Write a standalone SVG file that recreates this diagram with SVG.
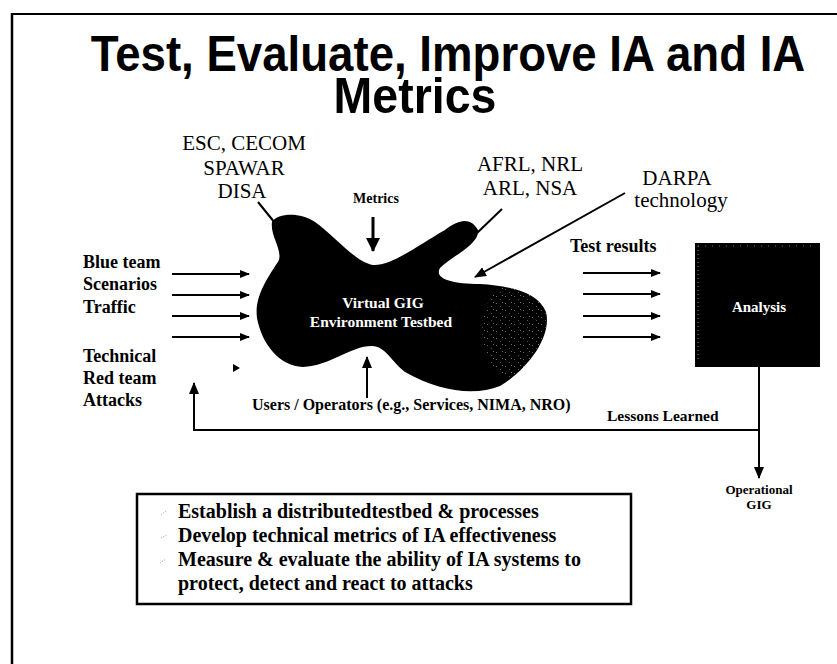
<svg xmlns="http://www.w3.org/2000/svg" width="837" height="664" viewBox="0 0 837 664">
<style>
.serif{font-family:"Liberation Serif","Times New Roman",serif;fill:#000}
.b{font-weight:bold}
.ln{stroke:#000;fill:none}
.wt{fill:#fff}
</style>
<defs>
<marker id="ah" markerUnits="userSpaceOnUse" markerWidth="10" markerHeight="8" refX="9" refY="4" orient="auto"><path d="M0,0 L10,4 L0,8 z" fill="#000"/></marker>
<marker id="ahm" markerUnits="userSpaceOnUse" markerWidth="14" markerHeight="14" refX="13" refY="7" orient="auto"><path d="M0,0 L14,7 L0,14 z" fill="#000"/></marker>
<marker id="ahs" markerUnits="userSpaceOnUse" markerWidth="12" markerHeight="10" refX="11" refY="5" orient="auto"><path d="M0,0 L12,5 L0,10 z" fill="#000"/></marker>
<pattern id="speck" width="9" height="7" patternUnits="userSpaceOnUse"><rect x="1" y="2" width="1" height="1" fill="#bbb"/><rect x="5" y="5" width="1" height="1" fill="#999"/><rect x="7" y="1" width="1" height="1" fill="#ccc"/></pattern>
<clipPath id="blobclip"><path d="M272,222 C278,213 300,212 315,222 C335,236 355,262 373,265 C392,266 420,244 445,230 C458,220 470,216 478,230 C480,244 452,256 440,268 C434,278 450,284 480,284 C510,286 538,292 546,312 C552,335 530,368 500,386 C475,396 440,392 405,372 C392,362 385,346 372,346 C350,346 330,366 303,367 C280,366 262,345 257,318 C254,295 270,275 279,260 C282,248 270,236 272,222 Z"/></clipPath>
</defs>

<g id="frame">
<line class="ln" x1="11" y1="14" x2="837" y2="14" stroke-width="2"/>
<line class="ln" x1="12" y1="13" x2="12" y2="664" stroke-width="2.5"/>
</g>

<g id="title" font-family="'Liberation Sans',Arial,sans-serif" font-weight="bold" font-size="50" text-anchor="middle">
<text transform="translate(448,71) scale(0.912,1)" x="0" y="0">Test, Evaluate, Improve IA and IA</text>
<text transform="translate(415,113) scale(0.93,1)" x="0" y="0">Metrics</text>
</g>

<g id="testbed">
<path d="M272,222 C278,213 300,212 315,222 C335,236 355,262 373,265 C392,266 420,244 445,230 C458,220 470,216 478,230 C480,244 452,256 440,268 C434,278 450,284 480,284 C510,286 538,292 546,312 C552,335 530,368 500,386 C475,396 440,392 405,372 C392,362 385,346 372,346 C350,346 330,366 303,367 C280,366 262,345 257,318 C254,295 270,275 279,260 C282,248 270,236 272,222 Z" fill="#000"/>
<ellipse cx="522" cy="330" rx="40" ry="52" fill="url(#speck)" clip-path="url(#blobclip)" opacity="0.55"/>
<text class="serif b wt" x="383" y="308" font-size="15.5" text-anchor="middle">Virtual GIG</text>
<text class="serif b wt" x="381" y="327" font-size="15.5" text-anchor="middle">Environment Testbed</text>
</g>

<g id="analysis">
<rect x="695" y="243" width="125" height="124" fill="#000"/>
<line x1="698" y1="246" x2="816" y2="246" stroke="#777" stroke-width="1" stroke-dasharray="1,6"/>
<line x1="698" y1="246" x2="698" y2="360" stroke="#777" stroke-width="1" stroke-dasharray="1,3"/>
<text class="serif b wt" x="759" y="312" font-size="15" text-anchor="middle">Analysis</text>
</g>

<g id="orgs-left" class="serif" font-size="21" text-anchor="middle">
<text x="244" y="150">ESC, CECOM</text>
<text x="244" y="175">SPAWAR</text>
<text x="242" y="198">DISA</text>
</g>

<g id="orgs-right" class="serif" font-size="21" text-anchor="middle">
<text x="530" y="171">AFRL, NRL</text>
<text x="530" y="195">ARL, NSA</text>
</g>

<g id="darpa" class="serif" font-size="21" text-anchor="middle">
<text x="677" y="185">DARPA</text>
<text x="681" y="207">technology</text>
</g>

<g id="metrics-label">
<text class="serif b" x="376" y="203" font-size="14" text-anchor="middle">Metrics</text>
</g>

<g id="inputs" class="serif b" font-size="18">
<text x="83" y="268">Blue team</text>
<text x="83" y="290">Scenarios</text>
<text x="83" y="313">Traffic</text>
<text x="83" y="362">Technical</text>
<text x="83" y="384">Red team</text>
<text x="83" y="406">Attacks</text>
</g>

<g id="results-label">
<text class="serif b" x="570" y="252" font-size="18">Test results</text>
</g>

<g id="users-label">
<text class="serif b" x="252" y="410" font-size="16">Users / Operators (e.g., Services, NIMA, NRO)</text>
</g>

<g id="lessons-label">
<text class="serif b" x="607" y="421" font-size="15.5">Lessons Learned</text>
</g>

<g id="operational">
<text class="serif b" x="759" y="494" font-size="13" text-anchor="middle">Operational</text>
<text class="serif b" x="759" y="509" font-size="13" text-anchor="middle">GIG</text>
</g>

<g id="connectors">
<line class="ln" x1="172" y1="274" x2="249" y2="274" stroke-width="2" marker-end="url(#ah)"/>
<line class="ln" x1="172" y1="295" x2="249" y2="295" stroke-width="2" marker-end="url(#ah)"/>
<line class="ln" x1="172" y1="316" x2="249" y2="316" stroke-width="2" marker-end="url(#ah)"/>
<line class="ln" x1="172" y1="337" x2="249" y2="337" stroke-width="2" marker-end="url(#ah)"/>
<path d="M233,364 L240,368 L233,372 z" fill="#000"/>
<line class="ln" x1="583" y1="273" x2="660" y2="273" stroke-width="2" marker-end="url(#ah)"/>
<line class="ln" x1="583" y1="294" x2="660" y2="294" stroke-width="2" marker-end="url(#ah)"/>
<line class="ln" x1="583" y1="316" x2="660" y2="316" stroke-width="2" marker-end="url(#ah)"/>
<line class="ln" x1="583" y1="337" x2="660" y2="337" stroke-width="2" marker-end="url(#ah)"/>
<line class="ln" x1="373" y1="217" x2="373" y2="251" stroke-width="3" marker-end="url(#ahm)"/>
<line class="ln" x1="367" y1="398" x2="367" y2="357" stroke-width="2" marker-end="url(#ahs)"/>
<line class="ln" x1="258" y1="202" x2="283" y2="233" stroke-width="2"/>
<line class="ln" x1="502" y1="209" x2="477" y2="233" stroke-width="2"/>
<line class="ln" x1="625" y1="193" x2="475" y2="277" stroke-width="2" marker-end="url(#ahs)"/>
<line class="ln" x1="759" y1="367" x2="759" y2="478" stroke-width="2" marker-end="url(#ahs)"/>
<path class="ln" d="M759,430 H194 V383" stroke-width="2" marker-end="url(#ahs)"/>
</g>

<g id="goals">
<rect x="137" y="494" width="494" height="110" fill="#fff" stroke="#000" stroke-width="2.5"/>
<g stroke="#999" stroke-width="1" stroke-dasharray="1,1.5">
<line x1="161" y1="515" x2="166" y2="511"/>
<line x1="161" y1="538" x2="167" y2="535"/>
<line x1="160" y1="563" x2="166" y2="559"/>
</g>
<g class="serif b" font-size="20">
<text x="178" y="518">Establish a distributedtestbed  &amp; processes</text>
<text x="178" y="542">Develop technical metrics of IA effectiveness</text>
<text x="178" y="566">Measure &amp; evaluate the ability of IA systems to</text>
<text x="178" y="590">protect, detect and react to attacks</text>
</g>
</g>
</svg>
